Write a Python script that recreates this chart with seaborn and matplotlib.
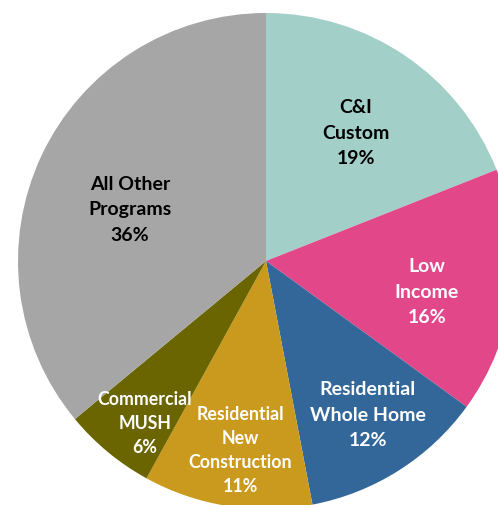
import matplotlib
matplotlib.use("Agg")
import matplotlib.pyplot as plt
import seaborn as sns

categories = ["C&I\nCustom", "Low\nIncome", "Residential\nWhole Home",
              "Residential\nNew\nConstruction", "Commercial\nMUSH", "All Other\nPrograms"]
shares = [19, 16, 12, 11, 6, 36]
colors = ["#A2D0C8", "#E2478A", "#336799", "#C99A1D", "#6B6500", "#A6A6A6"]
text_colors = ["#000000", "#FFFFFF", "#FFFFFF", "#FFFFFF", "#FFFFFF", "#000000"]

# label placement (data units, pie radius = 1) and sizes
label_pos = [(0.363, 0.516), (0.649, -0.125), (0.411, -0.621),
             (-0.105, -0.766), (-0.488, -0.657), (-0.548, 0.206)]
label_size = [14, 14, 14, 12.8, 12.8, 14]
label_spacing = [1.58, 1.58, 1.58, 1.5, 1.5, 1.58]

sns.set_style("white")
plt.rcParams['font.family'] = ['Lato', 'DejaVu Sans']

fig = plt.figure(figsize=(4.98, 5.05), dpi=100)
ax = fig.add_axes([0, 0, 1, 1])
palette = sns.color_palette(colors)
ax.pie(shares, colors=palette, startangle=90, counterclock=False,
       radius=1.0, center=(0, 0), wedgeprops=dict(linewidth=0))

for cat, val, (x, y), tc, fs, ls in zip(categories, shares, label_pos,
                                        text_colors, label_size, label_spacing):
    ax.text(x, y, f"{cat}\n{val}%", ha="center", va="center", color=tc,
            fontsize=fs, fontweight="bold", linespacing=ls)

R = 248.0
ax.set_xlim(-266 / R, (498 - 266) / R)
ax.set_ylim(-(505 - 261) / R, 261 / R)
ax.set_aspect("auto")
ax.axis("off")
fig.savefig("out.png", dpi=100)
